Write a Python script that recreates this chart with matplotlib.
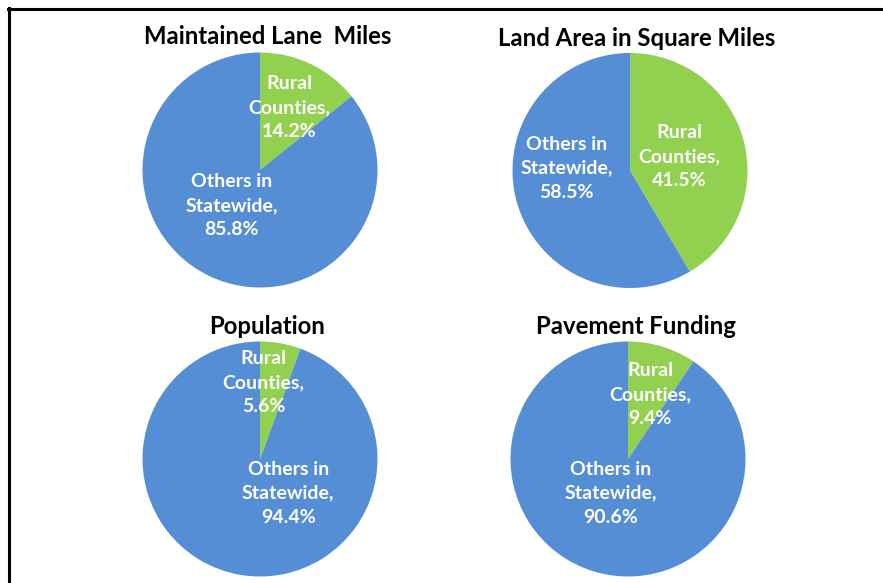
import matplotlib.pyplot as plt
from matplotlib.lines import Line2D

# data
titles = ["Maintained Lane  Miles", "Land Area in Square Miles",
          "Population", "Pavement Funding"]
categories = ["Rural\nCounties", "Others in\nStatewide"]
rural_pct = [14.2, 41.5, 5.6, 9.4]
others_pct = [85.8, 58.5, 94.4, 90.6]

colors = ["#92D050", "#558ED5"]

W, H = 883, 583
fig = plt.figure(figsize=(W / 100, H / 100), dpi=100)
plt.rcParams['font.family'] = ['Lato', 'DejaVu Sans']

# layout in pixels: pie centre, radius, title position, label offsets (in radii)
centers = [(260, 170), (630, 170.5), (260, 459), (628, 459)]
radius = 117.5
title_pos = [(268, 37), (637, 38), (267, 326), (636, 326)]
label_off = [
    [(0.25, 0.53), (-0.24, -0.30)],
    [(0.42, 0.12), (-0.54, 0.02)],
    [(0.03, 0.65), (0.24, -0.29)],
    [(0.19, 0.55), (-0.15, -0.29)],
]

for i in range(4):
    cx, cy = centers[i]
    ax = fig.add_axes([(cx - radius) / W, 1 - (cy + radius) / H,
                       2 * radius / W, 2 * radius / H])
    vals = [rural_pct[i], others_pct[i]]
    ax.pie(vals, colors=colors, startangle=90, counterclock=False,
           radius=1, wedgeprops=dict(linewidth=0))
    ax.set_xlim(-1, 1)
    ax.set_ylim(-1, 1)
    ax.axis('off')
    for j, v in enumerate(vals):
        dx, dy = label_off[i][j]
        ax.text(dx, dy, f"{categories[j]},\n{v:.1f}%", ha='center', va='center',
                color='white', fontsize=14, fontweight='bold', linespacing=1.5)
    tx, ty = title_pos[i]
    fig.text(tx / W, 1 - ty / H, titles[i], ha='center', va='center',
             fontsize=17.2, fontweight='bold', color='black')

# frame lines (top and left)
fig.add_artist(Line2D([8 / W, 1], [1 - 9 / H, 1 - 9 / H], color='black', lw=2.2))
fig.add_artist(Line2D([9 / W, 9 / W], [1 - 8 / H, 0], color='black', lw=2.2))

fig.savefig("out.png", dpi=100)
